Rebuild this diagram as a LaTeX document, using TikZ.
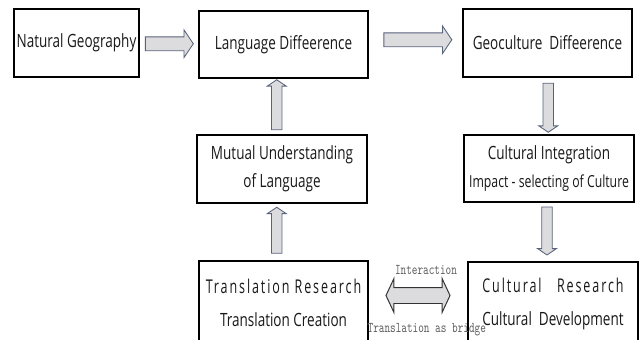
\documentclass[tikz,border=0pt]{standalone}
\usepackage{fontspec}
\setmainfont{Open Sans}[FakeStretch=0.74]
\newfontfamily\SpacedFont{Open Sans}[FakeStretch=0.66,LetterSpace=10]
\newfontfamily\BridgeFont{Latin Modern Mono}[FakeStretch=0.72]
\usetikzlibrary{shapes.arrows,positioning,calc}
\definecolor{ArrowLine}{RGB}{88,98,122}
\definecolor{ArrowFill}{RGB}{220,220,222}
\definecolor{LabelGray}{RGB}{95,95,95}

\begin{document}
\begin{tikzpicture}
[
Box/.style={rectangle, draw=black, line width=1.1pt, fill=white, align=center, inner sep=0pt, text=black!90, font=\fontsize{13}{20}\selectfont},
Hblockarrow/.style={single arrow, draw=ArrowLine, fill=ArrowFill, line width=0.6pt, inner sep=0.1625cm, single arrow head extend=0.175cm, single arrow tip angle=112, single arrow head indent=0pt},
Vblockarrow/.style={single arrow, draw=ArrowLine, fill=ArrowFill, line width=0.6pt, inner sep=0.12cm, single arrow head extend=0.105cm, single arrow tip angle=112, single arrow head indent=0pt},
Bridgearrow/.style={double arrow, draw=black!80, fill=ArrowFill, line width=0.7pt, inner sep=0.1875cm, double arrow head extend=0.225cm, double arrow tip angle=130, double arrow head indent=0pt},
Label/.style={inner sep=0pt, text=LabelGray, font=\BridgeFont\fontsize{10.6}{12}\selectfont}
]

\clip (0,0) rectangle (16.025,8.475);
\useasboundingbox (0,0) rectangle (16.025,8.475);

\node[Box, minimum width=3.125cm, minimum height=1.7cm] (NatGeo) at (1.9125,7.4) {Natural Geography};
\node[Box, minimum width=4.225cm, minimum height=1.675cm] (LangDiff) at (7.0875,7.3625) {Language Diffeerence};
\node[Box, minimum width=4.225cm, minimum height=1.7cm] (GeoDiff) at (13.6875,7.4) {Geoculture\ \ Diffeerence};
\node[Box, minimum width=4.25cm, minimum height=1.7cm] (MutUnd) at (7.05,4.25) {Mutual Understanding\\of Language};
\node[Box, minimum width=4.25cm, minimum height=1.675cm] (CulInt) at (13.725,4.2625) {Cultural Integration\\{\fontsize{11.8}{14}\selectfont Impact - selecting of Culture}};
\node[Box, minimum width=4.225cm, minimum height=2.1cm, font=\fontsize{13}{24}\selectfont] (TransRes) at (7.0875,0.9) {{\SpacedFont\fontsize{13.5}{24}\selectfont Translation Research}\\Translation Creation};
\node[Box, minimum width=4.25cm, minimum height=2.1cm, font=\fontsize{13}{24}\selectfont] (CulRes) at (13.825,0.875) {{\SpacedFont\fontsize{13.5}{24}\selectfont Cultural\ \ \ Research}\\Cultural\ \ Development};

\node[Hblockarrow, minimum height=1.2cm] (NatToLang) at ($(NatGeo.east)!0.5!(LangDiff.west)+(-0.05,0)$) {};
\node[Hblockarrow, minimum height=1.7cm] (LangToGeo) at ($(LangDiff.east)!0.5!(GeoDiff.west)+(0,0.1)$) {};
\node[Vblockarrow, minimum height=1.25cm, shape border rotate=90] (MutToLang) at ($(LangDiff.south)!0.5!(MutUnd.north)+(-0.15,0)$) {};
\node[Vblockarrow, minimum height=1.225cm, shape border rotate=270] (GeoToInt) at ($(GeoDiff.south)!0.5!(CulInt.north)$) {};
\node[Vblockarrow, minimum height=1.15cm, shape border rotate=90] (TransToMut) at ($(MutUnd.south)!0.5!(TransRes.north)+(-0.15,0)$) {};
\node[Vblockarrow, minimum height=1.2cm, shape border rotate=270] (IntToCul) at ($(CulInt.south)!0.5!(CulRes.north)+(-0.1,0.07)$) {};

\node[Bridgearrow, minimum height=1.6cm] (Bridge) at ($(TransRes.east)!0.5!(CulRes.west)+(0,0.2)$) {};
\node[Label, above=0.3cm of Bridge, xshift=0.2cm] (Interact) {Interaction};
\node[Label, below=0.48cm of Bridge, xshift=0.22cm] (BridgeText) {Translation as bridge};
\end{tikzpicture}
\end{document}
